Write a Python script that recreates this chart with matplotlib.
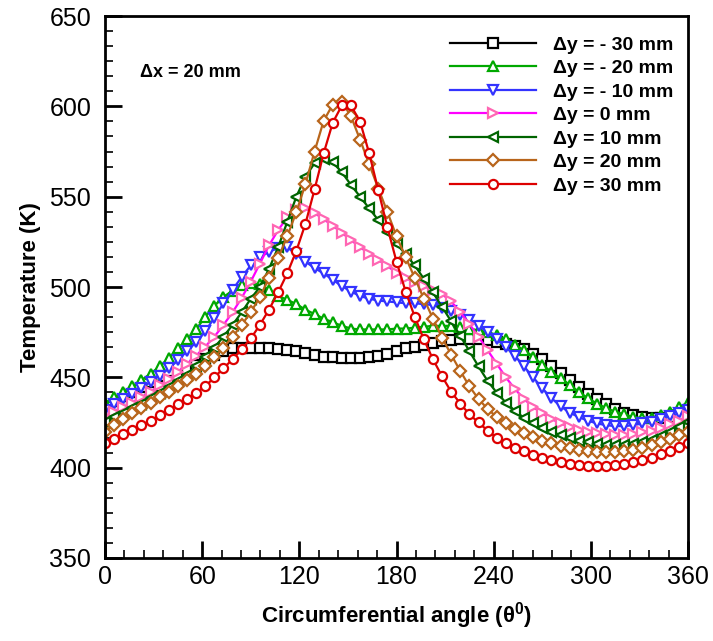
import numpy as np
import matplotlib
matplotlib.use("Agg")
import matplotlib.pyplot as plt
from matplotlib.ticker import MultipleLocator, AutoMinorLocator

# circumferential sampling, 65 stations round the tube
theta = np.linspace(0, 360, 65)

t_m30 = [429, 431.5, 434, 436.5, 439, 442, 445, 448, 451, 454, 457, 460, 462.5,
         464.5, 466, 466.5, 466.5, 466.5, 466, 465.5, 465, 464.5, 463.5, 462.5,
         461.5, 461, 460.5, 460.5, 460.5, 461, 462, 463, 464.5, 466, 467, 468,
         469, 470, 470.5, 471, 471, 471, 470.5, 469.5, 468.5, 467.5, 465.5, 463,
         460, 456.5, 452.5, 448.5, 444.5, 441, 438, 435, 432.5, 430.5, 429, 428,
         427.5, 427.5, 428, 428.5, 429]
t_m20 = [436, 439, 442, 445, 448.5, 452, 456, 460.5, 466, 471, 476.5, 483.5,
         489.5, 494.5, 498, 501, 502, 501.5, 498.5, 495, 493, 490.5, 487.5, 485,
         482.5, 480.5, 478.5, 477, 476.5, 476.5, 476.5, 476.5, 477, 477, 477.5,
         478, 478.5, 478.5, 478.5, 478, 477, 476, 475, 473.5, 471, 468, 465,
         461.5, 457, 453, 449.5, 446, 442, 438.5, 435.5, 433, 431, 429.5, 428,
         427.5, 427.5, 429, 431, 433.5, 436]
t_m10 = [432, 435, 438, 441, 444, 447.5, 451, 455, 459.5, 464.5, 469.5, 475.5,
         483, 491, 498.5, 505.5, 512, 516.5, 519.5, 521.5, 522, 518, 514, 510.5,
         507.5, 504, 500.5, 497.5, 495, 493.5, 492.5, 492, 491.5, 491, 491, 490.5,
         490, 488.5, 486.5, 484.5, 482, 478.5, 475, 471, 467, 462, 456, 450, 444,
         438.5, 434, 430.5, 428, 426, 424.5, 423.5, 423, 423, 423.5, 424.5, 425.5,
         427, 428.5, 430, 432]
t_0 = [428.5, 431, 433.5, 436, 439, 442, 445.5, 449, 453, 457.5, 462, 467, 472.5,
       479, 486, 494, 503, 513, 523, 531.5, 538.5, 542.5, 543.5, 541, 537.5, 534,
       530, 526, 522, 518.5, 515, 511.5, 508, 505, 502.5, 500.5, 498.5, 496, 492,
       486, 479.5, 472.5, 465, 457.5, 450, 443.5, 438, 433.5, 430, 427, 424.5,
       422.5, 421, 420, 419, 418.5, 418, 418, 418.5, 419.5, 420.5, 422, 424, 426,
       428.5]
t_p10 = [425.5, 428, 430.5, 433, 435.5, 438.5, 441.5, 444.5, 448, 451.5, 456, 461,
         466.5, 472.5, 479, 486, 493.5, 500, 510, 522, 536, 550, 561, 568.5, 571,
         569, 563.5, 556.5, 550, 543.5, 537, 530.5, 524, 518, 512, 504.5, 497, 489,
         481, 473, 464.5, 456, 448, 441.5, 436, 431.5, 427.5, 424.5, 422, 420, 418,
         416.5, 415, 414, 413, 412.5, 412.5, 412.5, 413, 414, 415.5, 417.5, 419.5,
         422.5, 425.5]
t_p20 = [420, 423.5, 427, 430, 433, 436, 439, 442, 445, 448.5, 452, 456, 461,
         466.5, 472.5, 479, 486, 494.5, 505, 516, 528, 541.5, 557, 575, 592, 601,
         602.5, 594.5, 581.5, 568, 554.5, 541.5, 528, 516.5, 505, 493.5, 482.5,
         472, 462.5, 453.5, 445, 438, 432.5, 428, 424.5, 421.5, 419, 417, 415,
         413.5, 412, 411, 410, 409, 408.5, 408.5, 408.5, 409, 410, 411, 412.5, 414,
         416, 418, 420]
t_p30 = [413.5, 416, 418.5, 421, 423.5, 426, 429, 432, 435, 438, 441.5, 445, 450,
         455, 460, 465.5, 471.5, 479, 487.5, 497, 507.5, 520, 535, 554, 574, 591,
         600.5, 600.5, 591.5, 574, 553.5, 533, 514, 497.5, 483.5, 471, 460, 450.5,
         442, 435.5, 429.5, 425, 420.5, 416.5, 413.5, 411, 409, 407, 405.5, 404,
         403, 402, 401.5, 401, 401, 401, 401.5, 402, 403, 404, 405.5, 407.5, 409.5,
         411.5, 413.5]

labels = ["\u0394y = - 30 mm", "\u0394y = - 20 mm", "\u0394y = - 10 mm",
          "\u0394y = 0 mm", "\u0394y = 10 mm", "\u0394y = 20 mm", "\u0394y = 30 mm"]
series = [t_m30, t_m20, t_m10, t_0, t_p10, t_p20, t_p30]

# (line colour, marker edge colour, marker)
styles = [("#000000", "#000000", "s"),
          ("#00a800", "#00a800", "^"),
          ("#3333ff", "#3333ff", "v"),
          ("#ff00ff", "#ff66b3", ">"),
          ("#006400", "#006400", "<"),
          ("#b8651b", "#b8651b", "D"),
          ("#dd0000", "#dd0000", "o")]

plt.rcParams["font.family"] = ["Liberation Sans", "DejaVu Sans"]

fig = plt.figure(figsize=(7.13, 6.41), dpi=100)
ax = fig.add_axes([0.1473, 0.1295, 0.8177, 0.8455])

for vals, lab, (lc, mc, mk) in zip(series, labels, styles):
    ms = 5.8 if mk == "D" else 6.6
    ax.plot(theta, vals, color=lc, lw=1.6, marker=mk, ms=ms,
            mfc="white", mec=mc, mew=1.6, label=lab)

ax.set_xlim(0, 360)
ax.set_ylim(350, 650)
ax.xaxis.set_major_locator(MultipleLocator(60))
ax.xaxis.set_minor_locator(AutoMinorLocator(5))
ax.yaxis.set_major_locator(MultipleLocator(50))
ax.yaxis.set_minor_locator(AutoMinorLocator(6))
ax.tick_params(which="both", direction="in", top=False, right=False, width=2)
ax.tick_params(which="major", length=12, labelsize=18)
ax.tick_params(axis="y", which="major", pad=10)
ax.tick_params(axis="x", which="major", pad=5)
ax.tick_params(which="minor", length=6, width=1.2)
for sp in ax.spines.values():
    sp.set_linewidth(2)

ax.set_xlabel("Circumferential angle (\u03b8$^{\\mathregular{0}}$)",
              fontsize=16, fontweight="bold", labelpad=8)
ax.set_ylabel("Temperature (K)", fontsize=16, fontweight="bold", labelpad=6)

ax.text(0.06, 0.888, "\u0394x = 20 mm", transform=ax.transAxes,
        fontsize=13, fontweight="bold")

ax.legend(loc="upper right", bbox_to_anchor=(1.005, 0.995), frameon=False,
          numpoints=1, handlelength=4.4, handletextpad=0.9, labelspacing=0.3,
          prop={"weight": "bold", "size": 14})

fig.savefig("out.png", dpi=100)
